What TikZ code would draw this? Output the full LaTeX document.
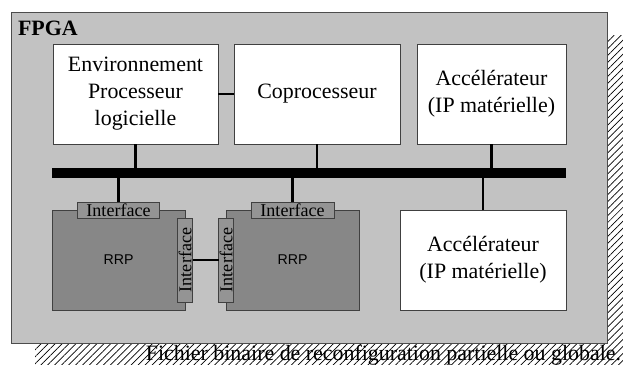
\documentclass[tikz,border=0pt]{standalone}
\usepackage{fontspec}
\setmainfont{Liberation Serif}
\setsansfont{Liberation Sans}
\usetikzlibrary{patterns.meta}

\tikzset{
  fpgabox/.style={
    draw=black!70, fill=black!24, line width=0.8pt
  },
  ipbox/.style={
    draw=black!75, fill=white, line width=0.8pt,
    minimum width=4.95cm, minimum height=3.0cm,
    align=center, inner sep=2pt,
    font=\fontsize{18.7}{23}\selectfont
  },
  rrpbox/.style={
    draw=black!75, fill=black!47, line width=0.8pt,
    minimum width=3.99cm, minimum height=3.0cm,
    align=center, inner sep=0pt,
    font=\sffamily\fontsize{12.1}{14}\selectfont
  },
  tabh/.style={
    draw=black!75, fill=black!42, line width=0.8pt,
    minimum width=2.46cm, minimum height=0.48cm,
    inner sep=0pt, font=\fontsize{15.4}{16}\selectfont
  },
  tabv/.style={
    tabh, rotate=90, minimum width=2.52cm, minimum height=0.45cm
  },
  wire/.style={line width=2.5pt},
  busline/.style={fill=black, draw=none, inner sep=0pt,
    minimum width=15.42cm, minimum height=0.3cm}
}

\begin{document}
\begin{tikzpicture}[x=0.03cm, y=-0.03cm, every node/.style={outer sep=0pt}]

\useasboundingbox (0,0) rectangle (623,364);

%% Bitstream (hatched, behind the FPGA)
\fill[pattern={Lines[angle=45,distance=4.2pt,line width=0.6pt]}]
  (35,35) rectangle (623,364);
\node[anchor=base east, inner sep=0pt, font=\fontsize{18.7}{23}\selectfont] (bits) at (621,360)
  {Fichier binaire de reconfiguration partielle ou globale.};

%% FPGA
\draw[fpgabox] (11,12) rectangle (607,343);
\node[anchor=base west, inner sep=0pt, font=\bfseries\fontsize{18.7}{23}\selectfont] (fpga) at (18,35) {FPGA};

%% Top row
\node[ipbox, anchor=north west] (env) at (53,44)
  {Environnement\\Processeur\\logicielle};
\node[ipbox, anchor=north west, minimum width=4.98cm] (copro) at (234,44)
  {Coprocesseur};
\node[ipbox, anchor=north west, minimum width=4.47cm] (acc1) at (417,44)
  {Accélérateur\\(IP matérielle)};

%% Bus
\node[busline, anchor=west] (bus) at (52,173) {};

%% Bottom row
\node[rrpbox, anchor=north west] (rrp1) at (52,210) {RRP};
\node[rrpbox, anchor=north west] (rrp2) at (226,210) {RRP};
\node[ipbox, anchor=north west, minimum width=4.98cm] (acc2) at (400,210)
  {Accélérateur\\(IP matérielle)};

%% Interfaces
\node[tabh] (if1) at (rrp1.north) {Interface};
\node[tabh, minimum width=2.49cm] (if2) at (rrp2.north) {Interface};
\node[tabv] (if1r) at (rrp1.east) {Interface};
\node[tabv] (if2l) at (rrp2.west) {Interface};

%% Links
\draw[wire] (env) -- (copro);
\draw[wire] (env.south) -- (env.south |- bus.north);
\draw[wire] (copro.south) -- (copro.south |- bus.north);
\draw[wire] (acc1.south) -- (acc1.south |- bus.north);
\draw[wire] (if1.north) -- (if1.north |- bus.south);
\draw[wire] (if2.north) -- (if2.north |- bus.south);
\draw[wire] (acc2.north) -- (acc2.north |- bus.south);
\draw[wire] (if1r) -- (if2l);

\end{tikzpicture}
\end{document}
